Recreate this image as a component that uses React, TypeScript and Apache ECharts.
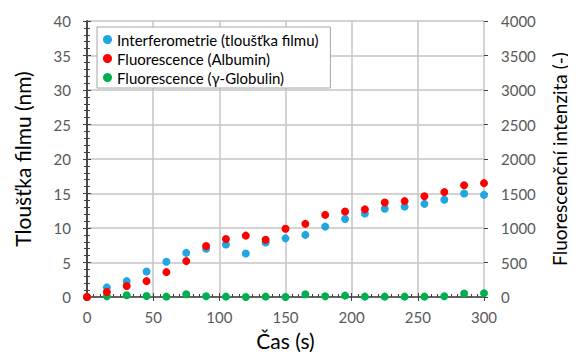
import React, { useEffect, useRef } from "react";
import * as echarts from "echarts";

// Sampling times (s)
const times = [0, 15, 30, 45, 60, 75, 90, 105, 120, 135, 150, 165, 180, 195, 210, 225, 240, 255, 270, 285, 300];

// Film thickness from interferometry (nm)
const thickness = [0, 1.4, 2.3, 3.7, 5.1, 6.4, 7.0, 7.6, 6.3, 7.9, 8.5, 9.0, 10.2, 11.3, 12.1, 12.8, 13.1, 13.5, 14.1, 15.0, 14.8];

// Fluorescence intensity, albumin (-)
const albumin = [0, 72, 160, 230, 360, 520, 740, 840, 890, 830, 990, 1060, 1190, 1240, 1270, 1370, 1390, 1460, 1520, 1620, 1650];

// Fluorescence intensity, gamma-globulin (-)
const globulin = [0, 10, 25, 15, 5, 40, 10, 5, 0, 5, 0, 40, 10, 20, 5, 5, 5, 5, 10, 50, 55];

const xTicks = [0, 300, 50];
const leftTicks = [0, 40, 5];
const rightTicks = [0, 4000, 500];

const FONT = "Lato, 'Open Sans', sans-serif";
const GRID_COLOR = "#c4c4c4";
const LABEL_COLOR = "#595959";
const AXIS_COLOR = "#404040";

const pairs = (ys: number[]) => times.map((t, i) => [t, ys[i]]);

export default function App() {
  const ref = useRef<HTMLDivElement>(null);

  useEffect(() => {
    if (!ref.current) return;
    const chart = echarts.init(ref.current, null, { renderer: "svg" });

    const axisLine = { show: true, lineStyle: { color: AXIS_COLOR, width: 1.5 } };
    const axisTick = { show: true, inside: true, length: 4, lineStyle: { color: AXIS_COLOR } };
    const minorTick = { show: true, length: 3, lineStyle: { color: AXIS_COLOR } };
    const axisLabel = { color: LABEL_COLOR, fontSize: 15, fontFamily: FONT };
    const nameStyle = { color: "#000", fontSize: 21, fontFamily: FONT };

    // Outer halves of the major ticks, so that they cross the axis lines
    const outerTicks = {
      type: "value",
      axisLine: { show: false },
      axisTick: { show: true, inside: false, length: 4, lineStyle: { color: AXIS_COLOR } },
      axisLabel: { show: false },
      splitLine: { show: false },
    };

    chart.setOption({
      animation: false,
      backgroundColor: "#fff",
      grid: { left: 87, right: 92, top: 21, bottom: 57, containLabel: false, outerBoundsMode: "none" },
      legend: {
        orient: "vertical",
        left: 97,
        top: 27,
        data: [
          "Interferometrie (tloušťka filmu)",
          "Fluorescence (Albumin)",
          "Fluorescence (γ-Globulin)",
        ],
        icon: "circle",
        itemWidth: 9,
        itemHeight: 9,
        itemGap: 4,
        padding: [5, 12, 3, 6],
        borderColor: "#a6a6a6",
        borderWidth: 1,
        backgroundColor: "#fff",
        textStyle: { color: "#000", fontSize: 15, fontFamily: FONT },
      },
      xAxis: [
        {
          type: "value",
          min: xTicks[0],
          max: xTicks[1],
          interval: xTicks[2],
          name: "Čas (s)",
          nameLocation: "middle",
          nameGap: 33,
          nameTextStyle: nameStyle,
          axisLine,
          axisTick,
          minorTick: { ...minorTick, splitNumber: 10 },
          axisLabel: { ...axisLabel, margin: 12 },
          splitLine: { show: true, lineStyle: { color: GRID_COLOR, width: 1.5 } },
        },
        { ...outerTicks, position: "bottom", min: xTicks[0], max: xTicks[1], interval: xTicks[2] },
      ],
      yAxis: [
        {
          type: "value",
          min: leftTicks[0],
          max: leftTicks[1],
          interval: leftTicks[2],
          name: "Tloušťka filmu (nm)",
          nameLocation: "middle",
          nameGap: 54,
          nameTextStyle: nameStyle,
          axisLine,
          axisTick,
          minorTick: { ...minorTick, splitNumber: 5 },
          axisLabel: { ...axisLabel, margin: 16 },
          splitLine: { show: true, lineStyle: { color: GRID_COLOR, width: 1.5 } },
        },
        {
          type: "value",
          position: "right",
          min: rightTicks[0],
          max: rightTicks[1],
          interval: rightTicks[2],
          name: "Fluorescenční intenzita (-)",
          nameLocation: "middle",
          nameGap: 66,
          nameTextStyle: { ...nameStyle, fontSize: 19 },
          axisLine,
          axisTick,
          minorTick: { ...minorTick, splitNumber: 5 },
          axisLabel: { ...axisLabel, margin: 17, formatter: (v: number) => String(v) },
          splitLine: { show: false },
        },
        { ...outerTicks, position: "left", min: leftTicks[0], max: leftTicks[1], interval: leftTicks[2] },
        { ...outerTicks, position: "right", min: rightTicks[0], max: rightTicks[1], interval: rightTicks[2] },
      ],
      series: [
        {
          name: "Interferometrie (tloušťka filmu)",
          type: "scatter",
          yAxisIndex: 0,
          symbolSize: 8,
          itemStyle: { color: "#22a6e2", opacity: 1 },
          data: pairs(thickness),
        },
        {
          name: "Fluorescence (γ-Globulin)",
          type: "scatter",
          yAxisIndex: 1,
          symbolSize: 8,
          itemStyle: { color: "#00b050", opacity: 1 },
          data: pairs(globulin),
        },
        {
          name: "Fluorescence (Albumin)",
          type: "scatter",
          yAxisIndex: 1,
          symbolSize: 8,
          itemStyle: { color: "#ff0000", opacity: 1 },
          data: pairs(albumin),
        },
      ],
    });

    return () => chart.dispose();
  }, []);

  return <div ref={ref} style={{ width: 576, height: 354, marginLeft: -8, marginTop: -8 }} />;
}
